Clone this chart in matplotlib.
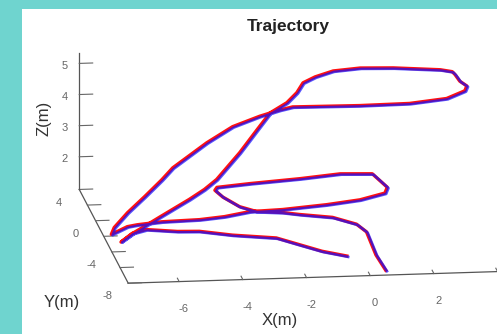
import matplotlib
matplotlib.use("Agg")
import matplotlib.pyplot as plt
from matplotlib.patches import Rectangle

plt.rcParams['font.family'] = ['Liberation Sans', 'DejaVu Sans']
plt.rcParams['axes.unicode_minus'] = False

# trajectory (m), red series
x_red = [-0.43, -1.12, -1.72, -2.33, -3.64, -4.60, -5.27, -6.20, -6.69, -7.16,
         -6.64, -6.31, -5.83, -5.24, -4.86, -4.36, -3.95, -3.13, -2.48, -2.03,
         -1.57, -1.25, -1.00, -0.58, 0.02, 0.88, 1.88, 3.30, 3.64, 3.68,
         3.72, 3.86, 3.72, 3.06, 1.86, 0.33, -1.66, -2.01, -2.58, -3.33,
         -4.09, -5.19, -5.55, -6.13, -6.71, -7.21, -7.36, -6.74, -6.40, -5.63,
         -4.47, -3.70, -2.90, -1.89, -0.48, 0.63, 1.51, 1.65, 1.38, 0.39,
         -0.93, -2.55, -3.64, -3.75, -3.59, -3.20, -2.73, -1.92, -1.40, -0.40,
         0.28, 0.49, 0.46, 0.54]
y_red = [-5.64, -4.94, -4.01, -3.16, -2.63, -2.02, -1.87, -1.51, -1.86, -2.79,
         -2.01, -1.89, -1.79, -1.66, -1.60, -1.39, -1.17, -0.43, 0.41, 0.73,
         0.19, 0.24, 0.67, 0.98, 1.26, 1.33, 1.02, 0.60, 0.31, -0.06,
         -0.92, -1.55, -2.15, -2.85, -3.13, -2.81, -1.93, -1.49, -1.02, -0.26,
         0.16, -0.11, -0.21, -0.51, -0.88, -1.52, -1.98, -1.07, -0.87, -0.79,
         -1.06, -1.17, -1.04, -1.29, -1.05, -0.57, 0.18, 0.71, 2.27, 2.39,
         1.94, 1.52, 1.17, 0.81, 0.13, -0.96, -1.44, -1.47, -1.59, -1.89,
         -2.45, -3.26, -5.82, -7.59]
z_red = [1.00, 1.00, 1.00, 1.02, 1.02, 1.02, 1.00, 1.00, 0.98, 0.95,
         1.05, 1.20, 1.45, 1.75, 1.95, 2.20, 2.45, 3.10, 3.60, 4.05,
         4.50, 4.80, 5.00, 5.10, 5.20, 5.25, 5.30, 5.30, 5.30, 5.30,
         5.30, 5.30, 5.30, 5.25, 5.20, 5.10, 4.90, 4.70, 4.40, 3.90,
         3.30, 2.60, 2.25, 1.80, 1.40, 1.10, 1.00, 1.00, 1.00, 1.05,
         1.15, 1.25, 1.35, 1.45, 1.50, 1.50, 1.50, 1.55, 1.60, 1.60,
         1.60, 1.60, 1.60, 1.60, 1.55, 1.50, 1.45, 1.40, 1.35, 1.30,
         1.20, 1.15, 1.05, 1.00]

# trajectory (m), blue series
x_blue = [-0.40, -1.09, -1.70, -2.30, -3.61, -4.58, -5.24, -6.17, -6.66, -7.13,
          -6.61, -6.28, -5.80, -5.21, -4.83, -4.33, -3.92, -3.10, -2.45, -2.00,
          -1.54, -1.22, -0.97, -0.55, 0.05, 0.91, 1.91, 3.33, 3.67, 3.71,
          3.75, 3.89, 3.75, 3.09, 1.89, 0.36, -1.63, -1.98, -2.55, -3.30,
          -4.06, -5.16, -5.52, -6.10, -6.68, -7.18, -7.33, -6.71, -6.37, -5.60,
          -4.44, -3.67, -2.87, -1.86, -0.45, 0.66, 1.54, 1.68, 1.41, 0.42,
          -0.90, -2.52, -3.61, -3.72, -3.56, -3.17, -2.70, -1.89, -1.37, -0.37,
          0.31, 0.52, 0.49, 0.57]
y_blue = [-5.72, -5.02, -4.09, -3.24, -2.71, -2.10, -1.95, -1.59, -1.94, -2.87,
          -2.09, -1.97, -1.87, -1.74, -1.68, -1.47, -1.25, -0.51, 0.33, 0.65,
          0.11, 0.16, 0.59, 0.90, 1.18, 1.25, 0.94, 0.52, 0.23, -0.14,
          -1.00, -1.63, -2.23, -2.93, -3.21, -2.89, -2.01, -1.57, -1.10, -0.34,
          0.08, -0.19, -0.29, -0.59, -0.96, -1.60, -2.06, -1.15, -0.95, -0.87,
          -1.14, -1.25, -1.12, -1.37, -1.13, -0.65, 0.10, 0.63, 2.19, 2.31,
          1.86, 1.44, 1.09, 0.73, 0.05, -1.04, -1.52, -1.55, -1.67, -1.97,
          -2.53, -3.34, -5.90, -7.67]
z_blue = [0.99, 0.99, 0.99, 1.01, 1.01, 1.01, 0.99, 0.99, 0.97, 0.95,
          1.04, 1.19, 1.44, 1.74, 1.94, 2.19, 2.44, 3.09, 3.59, 4.04,
          4.49, 4.79, 4.99, 5.09, 5.19, 5.24, 5.29, 5.29, 5.29, 5.29,
          5.29, 5.29, 5.29, 5.24, 5.19, 5.09, 4.89, 4.69, 4.39, 3.89,
          3.29, 2.59, 2.24, 1.79, 1.39, 1.09, 0.99, 0.99, 0.99, 1.04,
          1.14, 1.24, 1.34, 1.44, 1.49, 1.49, 1.49, 1.54, 1.59, 1.59,
          1.59, 1.59, 1.59, 1.59, 1.54, 1.49, 1.44, 1.39, 1.34, 1.29,
          1.19, 1.14, 1.04, 0.99]

x_ticks = [-6, -4, -2, 0, 2, 4]
y_ticks = [-8, -6, -4, -2, 0, 2, 4]
y_ticklabels = ['-8', '', '-4', '', '0', '', '4']
z_ticks = [2, 3, 4, 5]

W, H = 497, 334
fig = plt.figure(figsize=(W / 100, H / 100), dpi=100, facecolor='#6fd4cf')
fig.add_artist(Rectangle((22 / W, 0), 1, 325 / H, transform=fig.transFigure,
                         facecolor='white', edgecolor='none', zorder=0))

S = 540
ax = fig.add_axes([(290 - 0.5135 * S) / W, (172 - 0.5135 * S) / H, S / W, S / H],
                  projection='3d')
ax.set_facecolor('none')
ax.set_proj_type('ortho')
ax.view_init(elev=14.2, azim=-97.3)

ax.plot(x_red, y_red, z_red, color='#ff1010', lw=2.4)
ax.plot(x_blue, y_blue, z_blue, color='#1010ff', lw=1.9, alpha=0.7)

ax.set_xlim(-7.6, 4.1)
ax.set_ylim(-8, 4)
ax.set_zlim(0.95, 5.35)
ax.set_box_aspect((11.7, 12, 4.4))

ax.set_xticks(x_ticks)
ax.set_yticks(y_ticks)
ax.set_yticklabels(y_ticklabels)
ax.set_zticks(z_ticks)
ax.grid(False)
for axis in (ax.xaxis, ax.yaxis, ax.zaxis):
    axis.set_pane_color((1, 1, 1, 0))
    axis.pane.set_edgecolor((1, 1, 1, 0))
    axis.line.set_color('#555555')
    axis.line.set_linewidth(0.9)
    axis._axinfo['tick']['inward_factor'] = 0.0
    axis._axinfo['tick']['outward_factor'] = 0.45
ax.tick_params(axis='x', labelsize=8, colors='#666666', pad=12)
ax.tick_params(axis='y', labelsize=8, colors='#666666', pad=3)
ax.tick_params(axis='z', labelsize=8, colors='#666666', pad=-1)

fig.text(288 / W, 1 - 26 / H, 'Trajectory', ha='center', va='center',
         fontsize=12.5, fontweight='bold', color='#222222')
fig.text(280 / W, 1 - 321 / H, 'X(m)', ha='center', va='center', fontsize=12, color='#333333')
fig.text(62 / W, 1 - 302 / H, 'Y(m)', ha='center', va='center', fontsize=12, color='#333333')
fig.text(44 / W, 1 - 118 / H, 'Z(m)', ha='center', va='center', fontsize=12,
         rotation=90, color='#333333')

fig.savefig('out.png', dpi=100, facecolor=fig.get_facecolor())
